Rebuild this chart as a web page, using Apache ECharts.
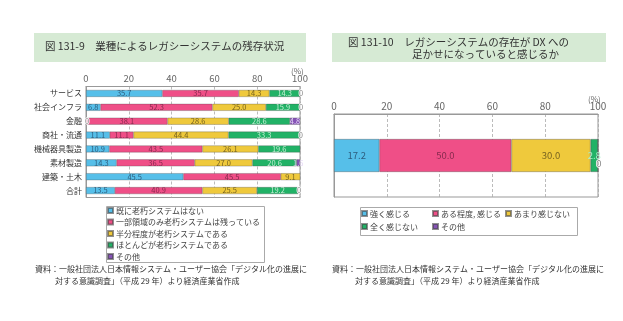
<!DOCTYPE html>
<html>
<head>
<meta charset="utf-8">
<script src="https://cdn.jsdelivr.net/npm/echarts@6/dist/echarts.min.js"></script>
<style>
  html, body { margin: 0; padding: 0; background: #fff; }
  #chart { width: 623px; height: 321px; }
</style>
</head>
<body>
<div id="chart"></div>
<script>
// 図131-9: categories and stacked shares (%)
const leftCats = ['サービス', '社会インフラ', '金融', '商社・流通', '機械器具製造', '素材製造', '建築・土木', '合計'];
const leftNames = ['既に老朽システムはない', '一部領域のみ老朽システムは残っている', '半分程度が老朽システムである', 'ほとんどが老朽システムである', 'その他'];
const noneOld  = [35.7, 6.8, 0, 11.1, 10.9, 14.3, 45.5, 13.5];
const partOld  = [35.7, 52.3, 38.1, 11.1, 43.5, 36.5, 45.5, 40.9];
const halfOld  = [14.3, 25.0, 28.6, 44.4, 26.1, 27.0, 9.1, 25.5];
const mostOld  = [14.3, 15.9, 28.6, 33.3, 19.6, 20.6, 0, 19.2];
const otherOld = [0, 0, 4.8, 0, 0, 1.6, 0, 0];

// 図131-10: single stacked bar
const rightNames = ['強く感じる', 'ある程度, 感じる', 'あまり感じない', '全く感じない', 'その他'];
const rightValues = [17.2, 50.0, 30.0, 2.8, 0];

const axisTicks = [0, 20, 40, 60, 80, 100];

const colors = ['#56bfe9', '#ef4f87', '#efc93c', '#21b266', '#8653b6'];
const leftLabelColors = ['#2d5d7e', '#862a4e', '#76621f', '#c4eed4', '#e2d4f3'];
const rightLabelColors = ['#2d5d7e', '#862a4e', '#76621f', '#a9f0c9', '#e2d4f3'];
const FONT = '"Noto Sans CJK JP", "Noto Sans", sans-serif';

const fmt = p => (p.value === 0 ? '0' : p.value.toFixed(1));

function buildData(values, zeroOffset) {
  return values.map(v => v === 0
    ? { value: 0, label: { color: '#888', textBorderColor: '#fff', textBorderWidth: 1.5, offset: zeroOffset || [1, 0] } }
    : v);
}

const leftSeriesValues = [noneOld, partOld, halfOld, mostOld, otherOld];

const series = [];
leftSeriesValues.forEach((vals, i) => {
  series.push({
    name: leftNames[i],
    type: 'bar',
    stack: 'left',
    xAxisIndex: 0,
    yAxisIndex: 0,
    barWidth: 7,
    data: buildData(vals, [1, 0]),
    itemStyle: { color: colors[i], borderColor: 'rgba(70,70,70,0.6)', borderWidth: 0.5 },
    label: {
      show: true, position: 'inside', formatter: fmt,
      fontSize: 7.5, fontFamily: FONT, color: leftLabelColors[i]
    }
  });
});
rightValues.forEach((v, i) => {
  series.push({
    name: rightNames[i],
    type: 'bar',
    stack: 'right',
    xAxisIndex: 1,
    yAxisIndex: 1,
    barWidth: 33,
    data: buildData([v], [1, 8]),
    itemStyle: { color: colors[i], borderColor: 'rgba(70,70,70,0.6)', borderWidth: 0.6 },
    label: {
      show: true, position: 'inside', formatter: fmt,
      fontSize: 9.5, fontFamily: FONT, color: rightLabelColors[i]
    }
  });
});

function valueAxis(gridIndex, fontSize) {
  return {
    type: 'value', gridIndex, position: 'top', min: 0, max: 100, interval: 20,
    axisLine: { show: true, lineStyle: { color: '#999', width: 1 } },
    axisTick: { show: false },
    axisLabel: {
      fontSize, color: '#666', fontFamily: FONT, margin: 3,
      formatter: v => (axisTicks.includes(v) ? String(v) : '')
    },
    splitLine: { show: true, lineStyle: { color: '#aaa', type: [3, 2], width: 0.8 } }
  };
}

function legendColumn(names, left, top, gap) {
  return {
    orient: 'vertical', left, top,
    data: names,
    icon: 'rect', itemWidth: 5, itemHeight: 5, itemGap: gap,
    padding: 0,
    selectedMode: false,
    textStyle: { fontSize: 8, color: '#444', fontFamily: FONT, padding: [0, 0, 0, -2], lineHeight: 9 }
  };
}

const option = {
  animation: false,
  textStyle: { fontFamily: FONT },
  grid: [
    { left: 86, top: 86.5, width: 214, height: 111, show: true, borderColor: '#999', borderWidth: 1, containLabel: false },
    { left: 334, top: 114, width: 264, height: 83, show: true, borderColor: '#999', borderWidth: 1, containLabel: false }
  ],
  xAxis: [valueAxis(0, 9.5), valueAxis(1, 10)],
  yAxis: [
    {
      type: 'category', gridIndex: 0, data: leftCats, inverse: true,
      axisLine: { show: true, lineStyle: { color: '#999' } },
      axisTick: { show: false },
      axisLabel: { fontSize: 8, color: '#333', fontFamily: FONT, margin: 4 }
    },
    {
      type: 'category', gridIndex: 1, data: [''],
      axisLine: { show: true, lineStyle: { color: '#999' } },
      axisTick: { show: false },
      axisLabel: { show: false }
    }
  ],
  legend: [
    legendColumn(leftNames, 107, 206, 2.5),
    legendColumn([rightNames[0], rightNames[3]], 361, 209, 4),
    legendColumn([rightNames[1], rightNames[4]], 432, 209, 4),
    legendColumn([rightNames[2]], 505, 209, 4)
  ],
  series,
  graphic: [
    // title bands
    { type: 'rect', left: 34, top: 33, shape: { width: 272, height: 29 }, style: { fill: '#d6ead4' }, z: -1 },
    { type: 'text', left: 45, top: 41, style: { text: '図 131-9　業種によるレガシーシステムの残存状況', fontSize: 10.5, fill: '#333', fontFamily: FONT } },
    { type: 'rect', left: 332, top: 33, shape: { width: 274, height: 29 }, style: { fill: '#d6ead4' }, z: -1 },
    { type: 'text', left: 348, top: 37, style: { text: '図 131-10　レガシーシステムの存在が DX への', fontSize: 10.5, fill: '#333', fontFamily: FONT } },
    { type: 'text', left: 412, top: 49, style: { text: '足かせになっていると感じるか', fontSize: 10.5, fill: '#333', fontFamily: FONT } },
    // unit marks
    { type: 'text', left: 291, top: 67, style: { text: '(%)', fontSize: 8, fill: '#666', fontFamily: FONT } },
    { type: 'text', left: 588, top: 95, style: { text: '(%)', fontSize: 8, fill: '#666', fontFamily: FONT } },
    // legend frames
    { type: 'rect', left: 104, top: 204, shape: { width: 158, height: 56 }, style: { fill: 'none', stroke: '#aaa', lineWidth: 1 } },
    { type: 'rect', left: 358, top: 205, shape: { width: 217, height: 28 }, style: { fill: 'none', stroke: '#aaa', lineWidth: 1 } },
    // sources
    { type: 'text', left: 35, top: 265, style: { text: '資料：一般社団法人日本情報システム・ユーザー協会「デジタル化の進展に', fontSize: 8, fill: '#333', fontFamily: FONT } },
    { type: 'text', left: 55, top: 277, style: { text: '対する意識調査」（平成 29 年）より経済産業省作成', fontSize: 8, fill: '#333', fontFamily: FONT } },
    { type: 'text', left: 332, top: 265, style: { text: '資料：一般社団法人日本情報システム・ユーザー協会「デジタル化の進展に', fontSize: 8, fill: '#333', fontFamily: FONT } },
    { type: 'text', left: 355, top: 277, style: { text: '対する意識調査」（平成 29 年）より経済産業省作成', fontSize: 8, fill: '#333', fontFamily: FONT } }
  ]
};

const chart = echarts.init(document.getElementById('chart'), null, { renderer: 'canvas' });
chart.setOption(option);
</script>
</body>
</html>
